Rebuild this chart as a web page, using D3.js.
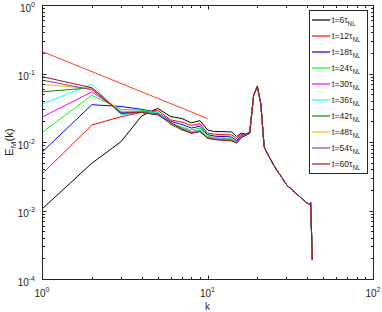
<!DOCTYPE html>
<html>
<head>
<meta charset="utf-8">
<script src="https://cdn.jsdelivr.net/npm/d3@7"></script>
<style>
  body { margin: 0; background: #fff; }
  svg { display: block; font-family: "Liberation Sans", Arial, sans-serif; }
</style>
</head>
<body>
<svg id="chart" width="382" height="312"></svg>
<script>
const wavenumbers = [1, 2, 3, 4, 5, 6, 7, 8, 9, 10, 11, 12, 13, 14, 15, 16, 17, 18, 19, 20,
    21, 22, 23, 24, 25, 26, 27, 28, 29, 30, 31, 32, 33, 34, 35, 36, 37, 38, 39, 40, 41, 42, 43];

// k = 1..18, read per curve
const e6  = [0.00105, 0.0049, 0.0101, 0.024, 0.031, 0.0235, 0.022, 0.019, 0.0205, 0.015, 0.0142, 0.0142, 0.0141, 0.014, 0.012, 0.0135, 0.013, 0.014];
const e12 = [0.0034, 0.0177, 0.0234, 0.027, 0.029, 0.021, 0.0195, 0.0175, 0.0185, 0.0135, 0.013, 0.0128, 0.0128, 0.0127, 0.0112, 0.013, 0.013, 0.0138];
const e18 = [0.0071, 0.035, 0.033, 0.030, 0.027, 0.020, 0.018, 0.016, 0.017, 0.0128, 0.0122, 0.012, 0.012, 0.0118, 0.0105, 0.0125, 0.0128, 0.0136];
const e24 = [0.0137, 0.048, 0.030, 0.029, 0.027, 0.019, 0.0165, 0.015, 0.016, 0.0122, 0.0116, 0.0114, 0.0113, 0.0112, 0.0102, 0.012, 0.0127, 0.0135];
const e30 = [0.023, 0.054, 0.028, 0.028, 0.026, 0.0185, 0.016, 0.0142, 0.015, 0.0118, 0.0112, 0.011, 0.011, 0.0108, 0.0099, 0.0118, 0.0126, 0.0135];
const e36 = [0.0355, 0.0695, 0.025, 0.027, 0.027, 0.0185, 0.0158, 0.014, 0.0148, 0.0117, 0.0111, 0.0109, 0.0108, 0.0107, 0.0098, 0.0117, 0.0126, 0.0134];
const e42 = [0.054, 0.062, 0.027, 0.027, 0.026, 0.018, 0.015, 0.0134, 0.0145, 0.0115, 0.011, 0.0108, 0.0107, 0.0106, 0.0097, 0.0116, 0.0125, 0.0134];
const e48 = [0.0695, 0.060, 0.028, 0.027, 0.025, 0.0185, 0.0155, 0.0136, 0.0143, 0.0115, 0.011, 0.0108, 0.0107, 0.0105, 0.0098, 0.0116, 0.0125, 0.0134];
const e54 = [0.080, 0.058, 0.027, 0.027, 0.025, 0.019, 0.0155, 0.0135, 0.0142, 0.0114, 0.0109, 0.0107, 0.0106, 0.0104, 0.0097, 0.0115, 0.0125, 0.0134];
const e60 = [0.090, 0.062, 0.026, 0.027, 0.025, 0.019, 0.0155, 0.0135, 0.0142, 0.0114, 0.0109, 0.0107, 0.0106, 0.0104, 0.0097, 0.0116, 0.0126, 0.0135];

// k = 19..43, the curves lie on top of each other here
const tail = [0.048, 0.065, 0.036, 0.0085, 0.0068, 0.0056, 0.0047, 0.0040, 0.0035, 0.0031, 0.0027, 0.0024,
    0.0022, 0.0021, 0.0019, 0.0018, 0.0017, 0.0016, 0.0015, 0.00143, 0.00135, 0.00128, 0.00124, 0.0013, 0.00019];

const times = [6, 12, 18, 24, 30, 36, 42, 48, 54, 60];
const colors = ['#000000', '#ff0000', '#0000ff', '#00ff00', '#ff00ff', '#00ffff', '#0a8a0a', '#ffb300', '#8c3cb4', '#a0141c'];

const refK = [1, 10];
const refE = [0.21, 0.022];

const yTickExp = [0, -1, -2, -3, -4];
const xTickExp = [0, 1, 2];

const margin = { left: 42, right: 373, top: 5, bottom: 279 };
const axisColor = '#262626';

const x = d3.scaleLog().domain([1, 100]).range([margin.left, margin.right]);
const y = d3.scaleLog().domain([1e-4, 1]).range([margin.bottom, margin.top]);

const svg = d3.select('#chart');

const series = [e6, e12, e18, e24, e30, e36, e42, e48, e54, e60].map((low, i) => ({
    t: times[i],
    color: colors[i],
    values: low.concat(tail).map((v, j) => ({ k: wavenumbers[j], e: v }))
}));

const line = d3.line().x(d => x(d.k)).y(d => y(d.e));

const plot = svg.append('g');

plot.selectAll('path.series')
    .data(series)
    .enter().append('path')
    .attr('class', 'series')
    .attr('d', d => line(d.values))
    .attr('fill', 'none')
    .attr('stroke', d => d.color)
    .attr('stroke-width', 1)
    .attr('stroke-linejoin', 'round');

plot.append('path')
    .attr('d', line(refK.map((k, i) => ({ k: k, e: refE[i] }))))
    .attr('fill', 'none')
    .attr('stroke', '#ff3d1f')
    .attr('stroke-width', 1);

// box and ticks (MATLAB style, inward on all four sides)
const axes = svg.append('g').attr('stroke', axisColor).attr('stroke-width', 1);
const L = margin.left + 0.5, R = margin.right + 0.5, T = margin.top + 0.5, B = margin.bottom + 0.5;
axes.append('rect')
    .attr('x', L).attr('y', T)
    .attr('width', R - L).attr('height', B - T)
    .attr('fill', 'none');

const isMajor = v => Math.abs(Math.log10(v) - Math.round(Math.log10(v))) < 1e-9;

x.ticks().forEach(v => {
    const px = Math.round(x(v)) + 0.5;
    const len = isMajor(v) ? 4 : 2.5;
    axes.append('line').attr('x1', px).attr('x2', px).attr('y1', B).attr('y2', B - len);
    axes.append('line').attr('x1', px).attr('x2', px).attr('y1', T).attr('y2', T + len);
});

y.ticks().forEach(v => {
    const py = Math.round(y(v)) + 0.5;
    const len = isMajor(v) ? 4 : 2.5;
    axes.append('line').attr('x1', L).attr('x2', L + len).attr('y1', py).attr('y2', py);
    axes.append('line').attr('x1', R).attr('x2', R - len).attr('y1', py).attr('y2', py);
});

// tick labels
const labels = svg.append('g').attr('fill', axisColor).attr('font-size', 10);

yTickExp.forEach(p => {
    const t = labels.append('text')
        .attr('x', margin.left - 7)
        .attr('y', y(Math.pow(10, p)) + 6.5)
        .attr('text-anchor', 'end');
    t.append('tspan').text('10');
    t.append('tspan').attr('font-size', 7).attr('dy', -5).text(p);
});

xTickExp.forEach(p => {
    const t = labels.append('text')
        .attr('x', x(Math.pow(10, p)))
        .attr('y', 297)
        .attr('text-anchor', 'middle');
    t.append('tspan').text('10');
    t.append('tspan').attr('font-size', 7).attr('dy', -5).text(p);
});

// axis titles
labels.append('text')
    .attr('x', (margin.left + margin.right) / 2)
    .attr('y', 310)
    .attr('text-anchor', 'middle')
    .attr('font-size', 10)
    .text('k');

const yt = labels.append('text')
    .attr('transform', `translate(13, ${(margin.top + margin.bottom) / 2}) rotate(-90)`)
    .attr('text-anchor', 'middle')
    .attr('font-size', 11.5);
yt.append('tspan').text('E');
yt.append('tspan').attr('font-size', 8).attr('dy', 3).text('M');
yt.append('tspan').attr('dy', -3).text('(k)');

// legend
const legend = svg.append('g');
legend.append('rect')
    .attr('x', 309.5).attr('y', 10.5)
    .attr('width', 58).attr('height', 163)
    .attr('fill', '#fff')
    .attr('stroke', axisColor)
    .attr('stroke-width', 1);

const item = legend.selectAll('g.item')
    .data(series)
    .enter().append('g')
    .attr('class', 'item')
    .attr('transform', (d, i) => `translate(0, ${20 + i * 16})`);

item.append('line')
    .attr('x1', 312).attr('x2', 330)
    .attr('stroke', d => d.color)
    .attr('stroke-width', 1.2);

const lt = item.append('text')
    .attr('x', 332)
    .attr('y', 3)
    .attr('font-size', 8.6)
    .attr('fill', axisColor);
lt.append('tspan').text(d => 't=' + d.t + 'τ');
lt.append('tspan').attr('font-size', 6.3).attr('dy', 2.5).text('NL');
</script>
</body>
</html>
